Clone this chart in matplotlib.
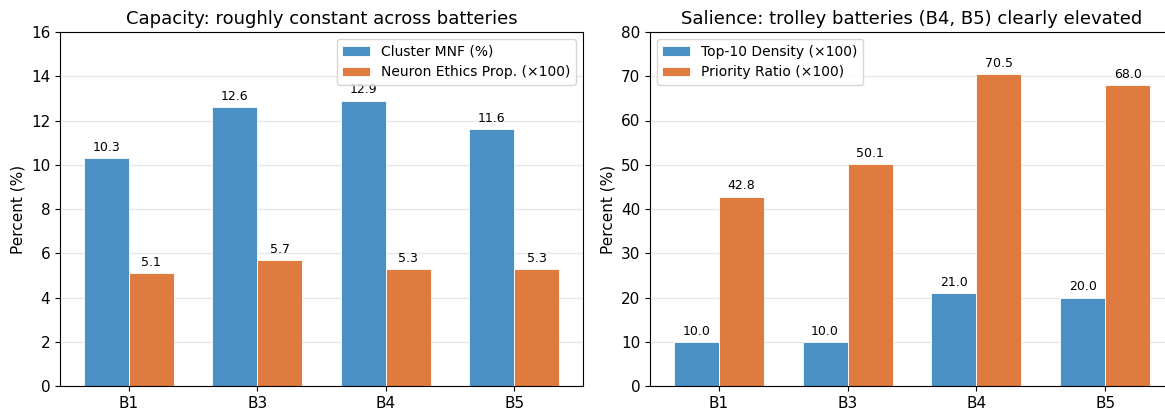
import numpy as np
import matplotlib
matplotlib.use("Agg")
import matplotlib.pyplot as plt

# ====================== 数据 ======================
batteries = ["B1", "B3", "B4", "B5"]

cluster_mnf = [10.3, 12.6, 12.9, 11.6]
neuron_ethics = [5.1, 5.7, 5.3, 5.3]

top10_density = [10.0, 10.0, 21.0, 20.0]
priority_ratio = [42.8, 50.1, 70.5, 68.0]

BLUE = "#4a90c4"
ORANGE = "#e07b3f"
WIDTH = 0.35


def draw_panel(ax, a_vals, b_vals, a_label, b_label, title, ylim, yticks):
    x = np.arange(len(batteries))
    bars_a = ax.bar(x - WIDTH / 2, a_vals, WIDTH, color=BLUE, edgecolor="white",
                    linewidth=0.6, label=a_label, zorder=2)
    bars_b = ax.bar(x + WIDTH / 2, b_vals, WIDTH, color=ORANGE, edgecolor="white",
                    linewidth=0.6, label=b_label, zorder=2)
    for bars in (bars_a, bars_b):
        for b in bars:
            ax.annotate(f"{b.get_height():.1f}",
                        (b.get_x() + b.get_width() / 2, b.get_height()),
                        xytext=(0, 3), textcoords="offset points",
                        ha="center", va="bottom", fontsize=9)
    ax.set_xticks(x)
    ax.set_xticklabels(batteries, fontsize=11)
    ax.set_ylim(*ylim)
    ax.set_yticks(yticks)
    ax.tick_params(axis="y", labelsize=11)
    ax.set_ylabel("Percent (%)", fontsize=11)
    ax.set_title(title, fontsize=13)
    ax.yaxis.grid(True, color="#dddddd", linewidth=1, alpha=0.7, zorder=0)
    ax.set_axisbelow(True)


fig = plt.figure(figsize=(11.65, 4.12), dpi=100)
ax1 = fig.add_axes([60 / 1165, 1 - 386 / 412, 523 / 1165, 354 / 412])
ax2 = fig.add_axes([650 / 1165, 1 - 386 / 412, 524 / 1165, 354 / 412])

draw_panel(ax1, cluster_mnf, neuron_ethics, "Cluster MNF (%)",
           "Neuron Ethics Prop. (\u00d7100)",
           "Capacity: roughly constant across batteries", (0, 16), range(0, 17, 2))
ax1.legend(loc="upper right", fontsize=10)

draw_panel(ax2, top10_density, priority_ratio, "Top-10 Density (\u00d7100)",
           "Priority Ratio (\u00d7100)",
           "Salience: trolley batteries (B4, B5) clearly elevated", (0, 80), range(0, 81, 10))
ax2.legend(loc="upper left", fontsize=10)

fig.savefig("out.png", dpi=100)
